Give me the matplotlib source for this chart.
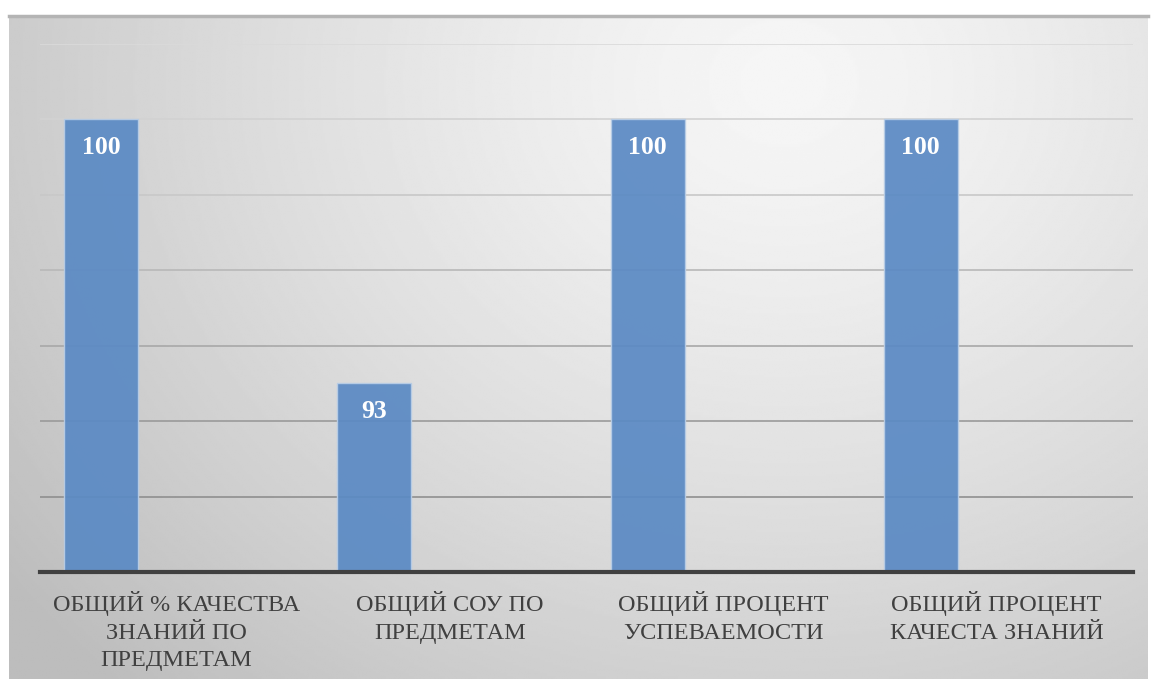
import matplotlib.pyplot as plt
import numpy as np

categories = ['ОБЩИЙ % КАЧЕСТВА\nЗНАНИЙ ПО\nПРЕДМЕТАМ',
              'ОБЩИЙ СОУ ПО\nПРЕДМЕТАМ',
              'ОБЩИЙ ПРОЦЕНТ\nУСПЕВАЕМОСТИ',
              'ОБЩИЙ ПРОЦЕНТ\nКАЧЕСТА ЗНАНИЙ']
values = [100, 93, 100, 100]
y_min, y_max, y_step = 88, 102, 2

W, H = 1151, 679
fig = plt.figure(figsize=(W / 100, H / 100), dpi=100)
fig.patch.set_facecolor('white')

# gradient background of the chart frame
bg = fig.add_axes([9 / W, 0, (1148 - 9) / W, 1 - 15 / H])
bg.set_axis_off()
yy, xx = np.mgrid[0:1:300j, 0:1:600j]
r = np.sqrt(((xx - 0.68) / 0.75) ** 2 + ((yy - 0.1) / 1.1) ** 2)
shade = np.clip(0.965 - 0.19 * r ** 1.3, 0.74, 0.97)
bg.imshow(shade, cmap='gray', vmin=0, vmax=1, aspect='auto',
          extent=[0, 1, 1, 0], interpolation='bilinear')
bg.set_xlim(0, 1)
bg.set_ylim(1, 0)
bg.plot([0, 1], [0.002, 0.002], color='#b4b4b4', lw=2.5, clip_on=False)

ax = fig.add_axes([40 / W, 1 - 572 / H, (1133 - 40) / W, (572 - 44) / H])
ax.set_facecolor('none')
x = np.arange(len(categories))
bars = ax.bar(x - 0.2766, values, width=0.271, bottom=0,
              color='#5b8ac4', alpha=0.93, edgecolor='#b8cde6', linewidth=1, zorder=3)
ax.set_xlim(-0.5, len(categories) - 0.5)
ax.set_ylim(y_min, y_max)
ax.set_yticks(np.arange(y_min, y_max + 1, y_step))
ax.yaxis.grid(True, zorder=0)
ax.set_axisbelow(True)
grid_cols = ['#3c3c3c', '#8f8f8f', '#9a9a9a', '#a8a8a8', '#b8b8b8', '#c8c8c8', '#d2d2d2', '#dadada']
for gl, c in zip(ax.get_ygridlines(), grid_cols):
    gl.set_color(c)
    gl.set_linewidth(1.2)
ax.tick_params(axis='y', length=0, labelleft=False)
ax.tick_params(axis='x', length=0, pad=14)
ax.set_xticks(x)
ax.set_xticklabels(categories, fontfamily='Liberation Serif', fontsize=17.5,
                   color='#404040', linespacing=1.38)
for s in ['top', 'right', 'left']:
    ax.spines[s].set_visible(False)
ax.spines['bottom'].set_color('#404040')
ax.spines['bottom'].set_linewidth(3)
ax.spines['bottom'].set_zorder(4)

for b, v in zip(bars, values):
    ax.annotate(str(v), (b.get_x() + b.get_width() / 2, v), xytext=(0, -20),
                textcoords='offset points', ha='center', va='center',
                fontfamily='Liberation Serif', fontweight='bold', fontsize=18.5,
                color='white', zorder=5)

fig.savefig('out.png', dpi=100)
